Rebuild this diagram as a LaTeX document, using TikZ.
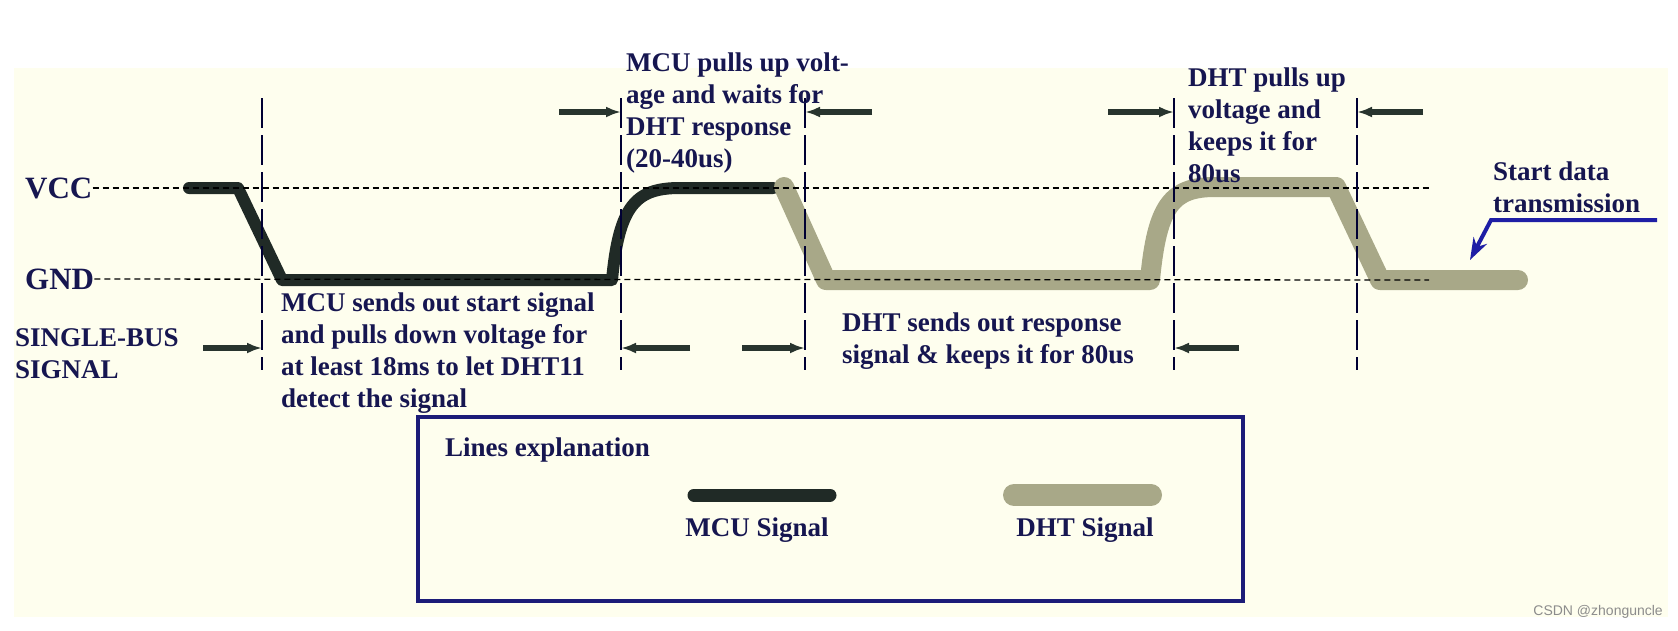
\documentclass[tikz,border=0pt]{standalone}
\usepackage{fontspec}
\setmainfont{Liberation Serif}
\setsansfont{Liberation Sans}
\usepackage{xcolor}
\usetikzlibrary{arrows.meta}

\definecolor{cream}{RGB}{254,254,238}
\definecolor{navy}{RGB}{22,22,80}
\definecolor{boxblue}{RGB}{28,28,120}
\definecolor{mcu}{RGB}{32,42,38}
\definecolor{dht}{RGB}{168,168,136}
\definecolor{arrowblue}{RGB}{30,30,165}
\definecolor{markgreen}{RGB}{40,52,46}

\tikzset{
  txt/.style={text=navy, font=\bfseries\fontsize{27}{32}\selectfont, align=left, inner sep=0pt},
  mculine/.style={draw=mcu, line width=12pt, line cap=round, line join=round},
  dhtline/.style={draw=dht, line width=20pt, line cap=round, line join=round},
  level/.style={draw=black, line width=1.3pt, dash pattern=on 6pt off 4pt},
  edge/.style={draw=black!80!blue, line width=1.5pt, dash pattern=on 30pt off 7pt},
  marker/.style={draw=markgreen, line width=5.5pt, -{Latex[length=15pt,width=11pt]}},
}

\begin{document}
\begin{tikzpicture}[x=1pt, y=-1pt]
    \useasboundingbox (0,0) rectangle (1678,630);
    % Background
    \fill[white] (0,0) rectangle (1678,630);
    \fill[cream] (14,68) rectangle (1668,617);

    % MCU signal
    \draw[mculine] (189,188) -- (238,188) -- (282,280) -- (612,280)
        .. controls (619,205) and (636,188) .. (680,188) -- (773,188);
    % DHT signal
    \draw[dhtline] (784,187) -- (826,280) -- (1150,280)
        .. controls (1157,205) and (1172,187) .. (1215,187) -- (1336,187) -- (1380,280) -- (1518,280);

    % VCC and GND levels
    \node[txt, anchor=west, font=\bfseries\fontsize{31}{32}\selectfont] (vcc) at (25,188) {VCC};
    \node[txt, anchor=west, font=\bfseries\fontsize{31}{32}\selectfont] (gnd) at (25,279) {GND};
    \coordinate (vccend) at (1429,188);
    \coordinate (gndend) at (1429,280);
    \draw[level] (vcc) -- (vccend);
    \draw[level] (gnd) -- (gndend);

    % Time marks
    \foreach \i/\x in {1/262, 2/621, 3/805, 4/1174, 5/1357} {
        \coordinate (top\i) at (\x,98);
        \coordinate (bot\i) at (\x,370);
        \draw[edge] (top\i) -- (bot\i);
    }

    % Arrows
    \coordinate (m2) at (559,112);
    \coordinate (m3) at (872,112);
    \coordinate (m4) at (1108,112);
    \coordinate (m5) at (1423,112);
    \draw[marker] (m2) -- (top2 |- m2);
    \draw[marker] (m3) -- (top3 |- m3);
    \draw[marker] (m4) -- (top4 |- m4);
    \draw[marker] (m5) -- (top5 |- m5);
    \coordinate (n1) at (203,348);
    \coordinate (n2) at (690,348);
    \coordinate (n3) at (742,348);
    \coordinate (n4) at (1239,348);
    \draw[marker] (n1) -- (top1 |- n1);
    \draw[marker] (n2) -- (top2 |- n2);
    \draw[marker] (n3) -- (top3 |- n3);
    \draw[marker] (n4) -- (top4 |- n4);

    % Text
    \node[txt, anchor=north west] (bus) at (15,328) {SINGLE-BUS\\SIGNAL};
    \node[txt, anchor=north west] (start) at (281,293) {MCU sends out start signal\\and pulls down voltage for\\at least 18ms to let DHT11\\detect the signal};
    \node[txt, anchor=north west] (wait) at (626,53) {MCU pulls up volt-\\age and waits for\\DHT response\\(20-40us)};
    \node[txt, anchor=north west] (resp) at (842,313) {DHT sends out response\\signal \& keeps it for 80us};
    \node[txt, anchor=north west] (keep) at (1188,68) {DHT pulls up\\voltage and\\keeps it for\\80us};
    \node[txt, anchor=north west] (data) at (1493,162) {Start data\\transmission};

    % Start data arrow
    \coordinate (da) at (1657,220);
    \coordinate (db) at (1491,220);
    \coordinate (dc) at (1470,260);
    \draw[arrowblue, line width=4pt, -{Stealth[length=22pt,width=15pt]}] (da) -- (db) -- (dc);

    % Legend
    \node[draw=boxblue, line width=4pt, fill=cream, minimum width=825pt, minimum height=184pt, inner sep=0pt] (legend) at (830,509) {};
    \node[txt, anchor=west] (expl) at (445,450) {Lines explanation};
    \draw[mculine, line width=13pt] (694,495) -- (830,495);
    \draw[dhtline, line width=22pt] (1014,495) -- (1151,495);
    \node[txt] (mcukey) at (757,530) {MCU Signal};
    \node[txt] (dhtkey) at (1085,530) {DHT Signal};

    % Watermark
    \node[font=\sffamily\fontsize{14}{16}\selectfont, text=black!45, anchor=east, inner sep=0pt] (wm) at (1663,612) {CSDN @zhonguncle};
\end{tikzpicture}
\end{document}
